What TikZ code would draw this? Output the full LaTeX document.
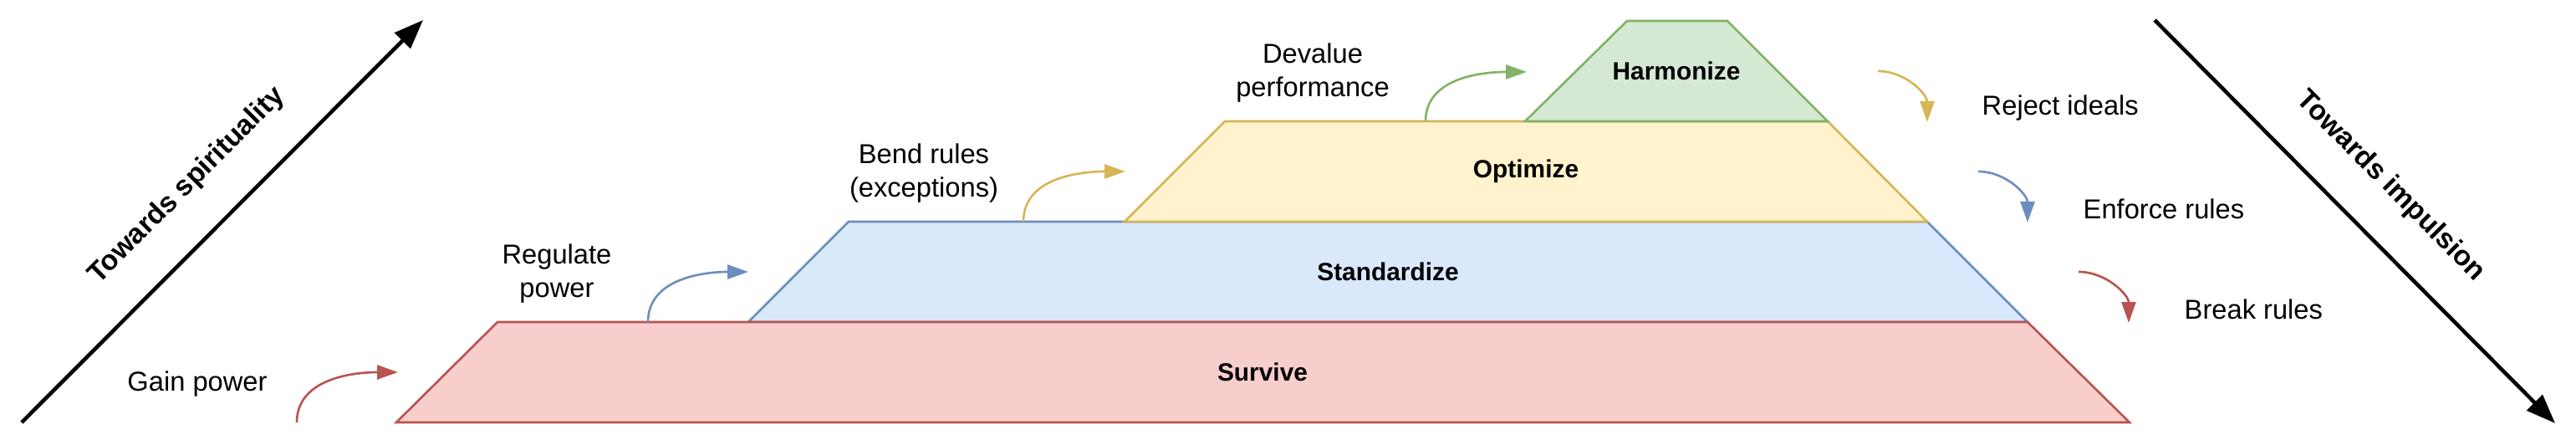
\documentclass[tikz,border=0pt]{standalone}
\usepackage{fontspec}
\setmainfont{Liberation Sans}
\usetikzlibrary{arrows.meta, calc, positioning}

\definecolor{redfill}{HTML}{F8CECC}
\definecolor{redline}{HTML}{B85450}
\definecolor{bluefill}{HTML}{DAE8FC}
\definecolor{blueline}{HTML}{6C8EBF}
\definecolor{yellowfill}{HTML}{FFF2CC}
\definecolor{yellowline}{HTML}{D6B656}
\definecolor{greenfill}{HTML}{D5E8D4}
\definecolor{greenline}{HTML}{82B366}

\begin{document}
\begin{tikzpicture}[
  level/.style={line width=0.75pt},
  level name/.style={font=\fontsize{8.5}{10}\selectfont\bfseries},
  step name/.style={font=\fontsize{9.3}{11.4}\selectfont, align=center},
  turn/.style={line width=0.75pt, -{Triangle[length=0.25cm,width=0.17cm]}},
  axis/.style={line width=1.3pt, -{Triangle[length=0.35cm,width=0.26cm]}},
  axis name/.style={font=\fontsize{9.6}{11.5}\selectfont\bfseries,
    sloped, above=0.42cm, inner sep=0pt}]

  \useasboundingbox (0,0) rectangle (30.81,5.31);

  % Pyramid levels (blue first, so the neighbours' edges lie over it)
  \draw [level, fill=bluefill, draw=blueline]
    (8.95,1.46) -- (24.25,1.46) -- (23.05,2.66) -- (10.15,2.66) -- cycle;
  \draw [level, fill=redfill, draw=redline]
    (4.74,0.26) -- (25.47,0.26) -- (24.25,1.46) -- (5.95,1.46) -- cycle;
  \draw [level, fill=yellowfill, draw=yellowline]
    (13.45,2.66) -- (23.05,2.66) -- (21.86,3.86) -- (14.65,3.86) -- cycle;
  \draw [level, fill=greenfill, draw=greenline]
    (18.24,3.86) -- (21.86,3.86) -- (20.66,5.06) -- (19.46,5.06) -- cycle;

  \node [level name] (sur) at (15.10,0.86) {Survive};
  \node [level name] (std) at (16.60,2.06) {Standardize};
  \node [level name] (opt) at (18.25,3.26) {Optimize};
  \node [level name] (har) at (20.05,4.46) {Harmonize};

  % Steps up the pyramid
  \node [step name] (gai) at (2.36,0.72) {Gain power};
  \node [step name] (reg) at (6.66,2.04) {Regulate\\power};
  \node [step name] (ben) at (11.05,3.24) {Bend rules\\(exceptions)};
  \node [step name] (dev) at (15.70,4.44) {Devalue\\performance};

  \coordinate (gai0) at (3.55,0.26);  \coordinate (gai1) at (4.76,0.86);
  \coordinate (reg0) at (7.75,1.46);  \coordinate (reg1) at (8.95,2.06);
  \coordinate (ben0) at (12.24,2.66); \coordinate (ben1) at (13.46,3.26);
  \coordinate (dev0) at (17.05,3.86); \coordinate (dev1) at (18.26,4.45);

  \draw [turn, redline]    (gai0) to[out=90, in=180] (gai1);
  \draw [turn, blueline]   (reg0) to[out=90, in=180] (reg1);
  \draw [turn, yellowline] (ben0) to[out=90, in=180] (ben1);
  \draw [turn, greenline]  (dev0) to[out=90, in=180] (dev1);

  % Steps down the pyramid
  \node [step name, anchor=base west, inner sep=0pt] (rej) at (23.70,3.93) {Reject ideals};
  \node [step name, anchor=base west, inner sep=0pt] (enf) at (24.91,2.70) {Enforce rules};
  \node [step name, anchor=base west, inner sep=0pt] (bre) at (26.12,1.50) {Break rules};

  \coordinate (rej0) at (22.46,4.46); \coordinate (rej1) at (23.05,3.85);
  \coordinate (enf0) at (23.66,3.26); \coordinate (enf1) at (24.25,2.65);
  \coordinate (bre0) at (24.86,2.06); \coordinate (bre1) at (25.46,1.45);

  \draw [turn, yellowline] (rej0) to[out=0, in=90] (rej1);
  \draw [turn, blueline]   (enf0) to[out=0, in=90] (enf1);
  \draw [turn, redline]    (bre0) to[out=0, in=90] (bre1);

  % The two directions
  \coordinate (spi0) at (0.26,0.26);  \coordinate (spi1) at (5.06,5.07);
  \coordinate (imp0) at (25.77,5.07); \coordinate (imp1) at (30.56,0.25);

  \draw [axis] (spi0) -- node [axis name] (spi) {Towards spirituality} (spi1);
  \draw [axis] (imp0) -- node [axis name] (imp) {Towards impulsion} (imp1);
\end{tikzpicture}
\end{document}
